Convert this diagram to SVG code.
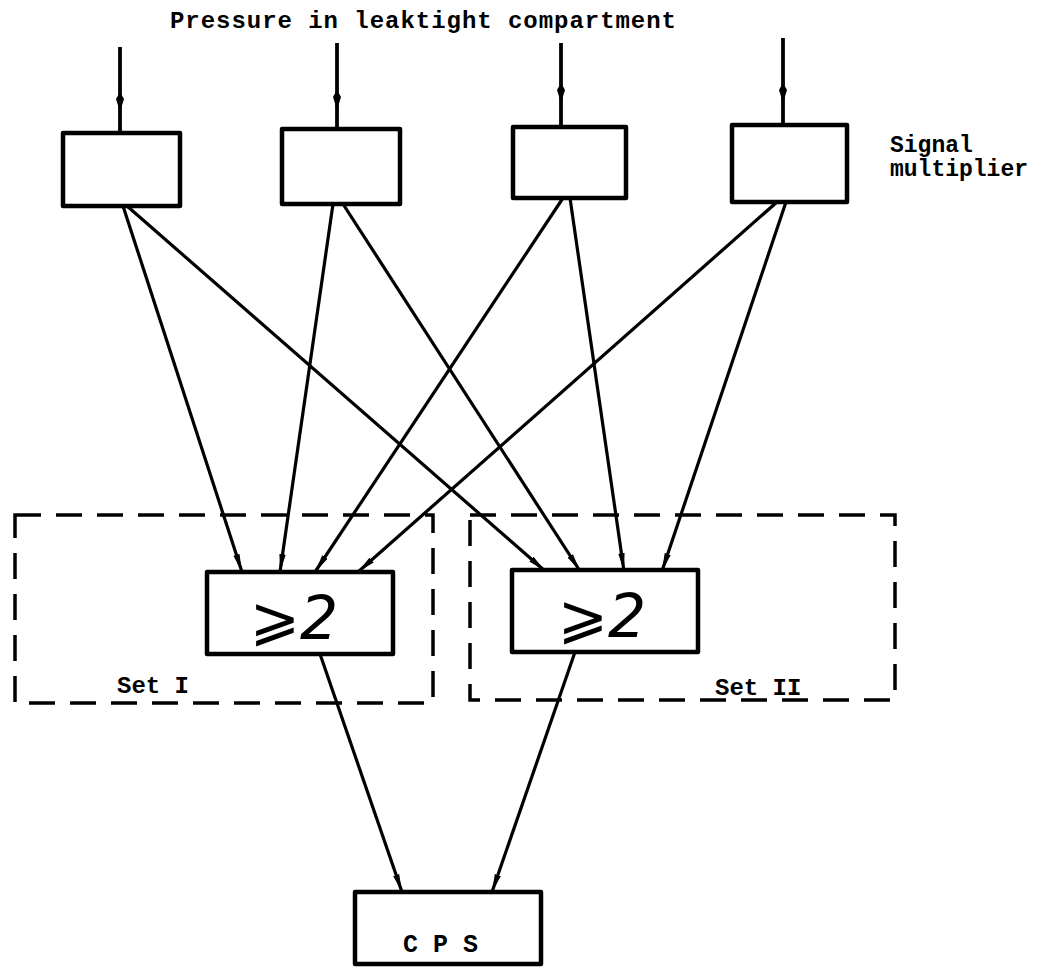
<svg xmlns="http://www.w3.org/2000/svg" width="1049" height="975" viewBox="0 0 1049 975">
  <defs>
    <marker id="head" viewBox="0 0 18 8" refX="18" refY="4" markerWidth="18" markerHeight="8" markerUnits="userSpaceOnUse" orient="auto">
      <path d="M0,0.8 L18,4 L0,7.2 z" fill="#000"/>
    </marker>
    <marker id="mid" viewBox="0 0 20 10" refX="10" refY="5" markerWidth="20" markerHeight="10" markerUnits="userSpaceOnUse" orient="auto">
      <path d="M0,5 L7,1 L20,5 L7,9 z" fill="#000"/>
    </marker>
    <style>
      .box { fill: #fff; stroke: #000; stroke-width: 4.5; stroke-linejoin: round; }
      .set { fill: none; stroke: #000; stroke-width: 3.5; stroke-dasharray: 26 15; }
      .wire { fill: none; stroke: #000; stroke-width: 3.2; }
      .feed { fill: none; stroke: #000; stroke-width: 3.8; marker-mid: url(#mid); }
      .lbl { font-family: "Liberation Mono", "DejaVu Sans Mono", monospace; font-weight: bold; fill: #000; }
      .vote { font-family: "DejaVu Sans", "Liberation Sans", sans-serif; fill: #000; }
    </style>
  </defs>

  <rect width="1049" height="975" fill="#fff"/>

  <!-- heading -->
  <text class="lbl" x="170" y="28" font-size="24" textLength="506">Pressure in leaktight compartment</text>

  <!-- voting sets -->
  <g id="set1">
    <rect class="set" x="15" y="515" width="418" height="188"/>
    <text class="lbl" x="117" y="693" font-size="24">Set I</text>
  </g>
  <g id="set2">
    <rect class="set" x="470" y="515" width="425" height="185"/>
    <text class="lbl" x="715" y="695" font-size="24">Set II</text>
  </g>

  <!-- connectors -->
  <g id="connectors">
    <!-- pressure inputs -->
    <polyline class="feed" points="120,47 120,102 120,133"/>
    <polyline class="feed" points="337,43 337,100 337,129"/>
    <polyline class="feed" points="561,43 561,93 561,127"/>
    <polyline class="feed" points="783,38 783,93 783,125"/>
    <!-- multipliers to voting logic -->
    <line class="wire" x1="123" y1="206" x2="242" y2="572" marker-end="url(#head)"/>
    <line class="wire" x1="127" y1="206" x2="545" y2="571" marker-end="url(#head)"/>
    <line class="wire" x1="333" y1="204" x2="280" y2="572" marker-end="url(#head)"/>
    <line class="wire" x1="343" y1="204" x2="580" y2="571" marker-end="url(#head)"/>
    <line class="wire" x1="563" y1="198" x2="315" y2="572" marker-end="url(#head)"/>
    <line class="wire" x1="570" y1="198" x2="624" y2="571" marker-end="url(#head)"/>
    <line class="wire" x1="777" y1="202" x2="358" y2="572" marker-end="url(#head)"/>
    <line class="wire" x1="786" y1="202" x2="662" y2="571" marker-end="url(#head)"/>
    <!-- voting logic to CPS -->
    <line class="wire" x1="320" y1="654" x2="402" y2="892" marker-end="url(#head)"/>
    <line class="wire" x1="575" y1="652" x2="492" y2="892" marker-end="url(#head)"/>
  </g>

  <!-- signal multipliers -->
  <g id="mult1"><rect class="box" x="63" y="133" width="117" height="73"/></g>
  <g id="mult2"><rect class="box" x="282" y="129" width="118" height="75"/></g>
  <g id="mult3"><rect class="box" x="513" y="127" width="113" height="71"/></g>
  <g id="mult4"><rect class="box" x="732" y="125" width="115" height="77"/></g>
  <g id="mult-label">
    <text class="lbl" x="890" y="152" font-size="23">Signal</text>
    <text class="lbl" x="890" y="176" font-size="23">multiplier</text>
  </g>

  <!-- 2-out-of-4 voting units -->
  <g id="vote1">
    <rect class="box" x="207" y="572" width="186" height="82"/>
    <text class="vote" x="294" y="639" font-size="60" text-anchor="middle">⩾<tspan font-style="italic">2</tspan></text>
  </g>
  <g id="vote2">
    <rect class="box" x="512" y="570" width="186" height="82"/>
    <text class="vote" x="602" y="637" font-size="60" text-anchor="middle">⩾<tspan font-style="italic">2</tspan></text>
  </g>

  <!-- protection system -->
  <g id="cps">
    <rect class="box" x="355" y="892" width="186" height="72"/>
    <text class="lbl" x="403" y="952" font-size="25">C P S</text>
  </g>
</svg>
